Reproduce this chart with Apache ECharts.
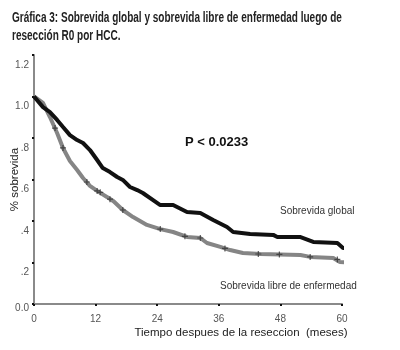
<!DOCTYPE html>
<html>
<head>
<meta charset="utf-8">
<script src="https://cdn.jsdelivr.net/npm/echarts@6/dist/echarts.min.js"></script>
<style>
  html, body { margin: 0; padding: 0; background: #fff; }
  #container { width: 400px; height: 350px; }
</style>
</head>
<body>
<div id="container"></div>
<script>
// meses, sobrevida
var globalData = [
  [0, 1.0], [1.75, 0.949], [3.1, 0.925], [4.5, 0.887], [5.65, 0.853], [7.0, 0.814],
  [8.4, 0.79], [9.55, 0.776], [10.9, 0.742], [12.3, 0.694], [13.4, 0.655], [14.8, 0.636],
  [16.2, 0.612], [17.3, 0.598], [18.7, 0.564], [20.1, 0.549], [21.2, 0.535], [23.2, 0.501],
  [24.6, 0.477], [27.1, 0.477], [29.8, 0.443], [32.4, 0.439], [34.9, 0.405], [37.6, 0.371],
  [38.8, 0.347], [42.1, 0.337], [46.6, 0.333], [47.4, 0.323], [51.8, 0.323], [54.4, 0.299],
  [59.1, 0.294], [60.2, 0.27], [62.6, 0.27]
];
var libreData = [
  [0, 1.0], [1.75, 0.969], [3.1, 0.901], [4.5, 0.824], [5.65, 0.752], [7.0, 0.689],
  [8.4, 0.646], [9.55, 0.607], [10.9, 0.569], [12.3, 0.545], [14.2, 0.516], [15.5, 0.495],
  [17.3, 0.453], [19.3, 0.419], [22.0, 0.381], [24.6, 0.361], [27.1, 0.347], [29.8, 0.323],
  [32.4, 0.318], [33.7, 0.294], [36.3, 0.275], [38.2, 0.26], [40.7, 0.246], [44.1, 0.241],
  [51.9, 0.236], [53.8, 0.227], [58.3, 0.222], [59.6, 0.202], [62.6, 0.198]
];
// marcas de censura (+) sobre la curva libre de enfermedad
var censuras = [
  [4.1, 0.848], [5.65, 0.752], [10.3, 0.588], [12.3, 0.545], [12.9, 0.538], [14.8, 0.505],
  [17.3, 0.453], [24.6, 0.361], [29.4, 0.326], [32.4, 0.318], [37.2, 0.268], [43.7, 0.241],
  [47.8, 0.239], [53.8, 0.227], [59.1, 0.215]
];
var xTicks = [0, 12, 24, 36, 48, 60];
var yTickLabels = ['0.0', '.2', '.4', '.6', '.8', '1.0', '1.2'];

var titulo = 'Gráfica 3: Sobrevida global y sobrevida libre de enfermedad luego de\nresección R0 por HCC.';
var pValor = 'P < 0.0233';
var nombreGlobal = 'Sobrevida global';
var nombreLibre = 'Sobrevida libre de enfermedad';

var dom = document.getElementById('container');
var myChart = echarts.init(dom, null, { renderer: 'canvas' });
var option;

option = {
  animation: false,
  backgroundColor: '#fff',
  grid: { left: 34, right: 58, top: 55, bottom: 46, containLabel: false, outerBoundsMode: 'none' },
  xAxis: {
    type: 'value',
    min: 0,
    max: 60,
    interval: 12,
    name: 'Tiempo despues de la reseccion  (meses)',
    nameLocation: 'middle',
    nameGap: 23,
    nameMoveOverlap: false,
    nameTextStyle: { fontFamily: 'Liberation Sans', fontSize: 11.5, color: '#222', padding: [0, 0, 0, 106] },
    splitLine: { show: false },
    axisLine: { show: true, onZero: false, lineStyle: { color: '#8a8a8a', width: 2 } },
    axisTick: { show: true, length: 2, lineStyle: { color: '#111', width: 2 } },
    axisLabel: {
      fontFamily: 'Liberation Sans', fontSize: 10, color: '#555', margin: 10,
      formatter: function (v) { return xTicks.indexOf(v) >= 0 ? String(v) : ''; }
    }
  },
  yAxis: {
    type: 'value',
    min: 0,
    max: 1.2,
    interval: 0.2,
    name: '% sobrevida',
    nameLocation: 'middle',
    nameGap: 13,
    nameMoveOverlap: false,
    nameTextStyle: { fontFamily: 'Liberation Sans', fontSize: 11.5, color: '#222' },
    splitLine: { show: false },
    axisLine: { show: true, lineStyle: { color: '#8a8a8a', width: 2 } },
    axisTick: { show: true, length: 2, lineStyle: { color: '#111', width: 2 } },
    axisLabel: {
      margin: 5,
      formatter: function (v) {
        var i = Math.round(v / 0.2);
        return i === 0 ? '{z|' + yTickLabels[i] + '}' : '{a|' + yTickLabels[i] + '}';
      },
      rich: {
        a: { fontFamily: 'Liberation Sans', fontSize: 10, color: '#555', padding: [20, 0, 0, 0] },
        z: { fontFamily: 'Liberation Sans', fontSize: 10, color: '#555', padding: [8, 0, 0, 0] }
      }
    }
  },
  series: [
    {
      name: nombreLibre,
      type: 'line',
      data: libreData,
      clip: false,
      symbol: 'none',
      lineStyle: { color: '#858585', width: 4 }
    },
    {
      name: 'censura',
      type: 'scatter',
      data: censuras,
      clip: false,
      symbol: 'path://M2,0H3V2H5V3H3V5H2V3H0V2H2Z',
      symbolSize: 6,
      itemStyle: { color: '#333' },
      z: 3
    },
    {
      name: nombreGlobal,
      type: 'line',
      data: globalData,
      clip: false,
      symbol: 'none',
      lineStyle: { color: '#111', width: 4 },
      z: 4
    }
  ],
  graphic: [
    {
      type: 'text', left: 12, top: 9, scaleX: 0.715,
      style: { text: titulo, font: 'bold 14px "Liberation Sans Narrow", "Liberation Sans"', fill: '#222', lineHeight: 18 }
    },
    {
      type: 'text', left: 185, top: 136,
      style: { text: pValor, font: 'bold 13px "Liberation Sans"', fill: '#111' }
    },
    {
      type: 'text', left: 280, top: 206,
      style: { text: nombreGlobal, font: '10px "Liberation Sans"', fill: '#333' }
    },
    {
      type: 'text', left: 220, top: 281,
      style: { text: nombreLibre, font: '10px "Liberation Sans"', fill: '#333' }
    }
  ]
};

if (option && typeof option === 'object') {
  myChart.setOption(option);
}
</script>
</body>
</html>
